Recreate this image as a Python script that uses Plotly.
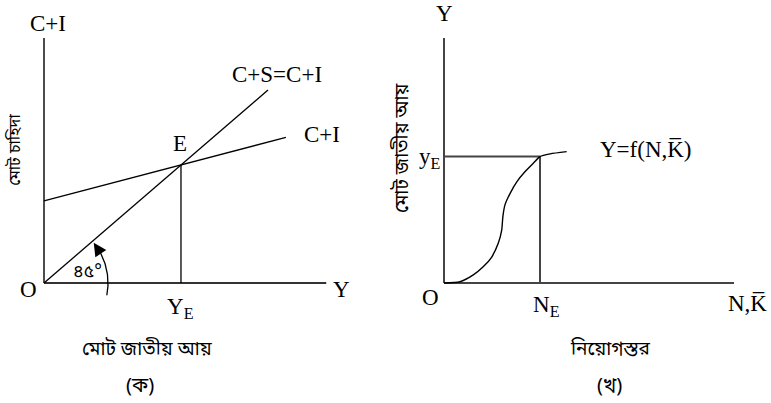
import numpy as np
import plotly.graph_objects as go

# ---------------- data (panel ক) ----------------
a_axis_x = [0, 12.6]          # horizontal axis extent
a_axis_y = [0, 12.7]          # vertical axis extent
a_diag_x = [0, 10]            # 45-degree line  C+S = C+I  (y = x)
a_ci_intercept = 4.25         # C+I line
a_ci_slope = 0.305
a_ci_xend = 10.8

# ---------------- data (panel খ) ----------------
b_axis_x = [0, 10]
b_axis_y = [0, 10]
b_curve_x = [0, 0.55, 1.01, 1.36, 1.64, 1.87, 1.99, 2.03, 2.10, 2.28, 2.51, 2.79, 3.08, 3.31, 3.66, 4.23]
b_curve_y = [0, 0.05, 0.33, 0.67, 1.05, 1.62, 2.16, 2.71, 3.18, 3.66, 4.13, 4.54, 4.89, 5.16, 5.27, 5.36]
b_NE = 3.31
b_yE = 5.16

SERIF = "Liberation Serif, Times New Roman, serif"
BN = "Noto Sans Bengali, Noto Serif Bengali, Lohit Bengali, FreeSerif, Noto Sans, sans-serif"
LAT = 23

fig = go.Figure()

def line(x, y, xa, ya, color="black", width=1.3, shape="linear"):
    fig.add_trace(go.Scatter(x=x, y=y, mode="lines", xaxis=xa, yaxis=ya,
                             line=dict(color=color, width=width, shape=shape, smoothing=0.6),
                             hoverinfo="skip", showlegend=False))

# ---- panel A ----
line([0, 0], a_axis_y, "x", "y", "black", 1.4)
line(a_axis_x, [0, 0], "x", "y", "#333", 1.8)
line(a_diag_x, a_diag_x, "x", "y")
line([0, a_ci_xend], [a_ci_intercept, a_ci_intercept + a_ci_slope * a_ci_xend], "x", "y")
xE = a_ci_intercept / (1 - a_ci_slope)
line([xE, xE], [0, xE], "x", "y")

# 45 degree arc (pixel-scale circle converted to data units)
ux_a, uy_a = 22.4, 19.3
r_px = 64
th = np.radians(np.linspace(-11, 28, 40))
line(list(r_px * np.cos(th) / ux_a), list(r_px * np.sin(th) / uy_a), "x", "y", "black", 1.3)
t1, t2 = np.radians(27), np.radians(39)

# ---- panel B ----
line([0, 0], b_axis_y, "x2", "y2", "#444", 2)
line(b_axis_x, [0, 0], "x2", "y2", "#444", 2)
line([0, b_NE], [b_yE, b_yE], "x2", "y2", "#444", 2)
line([b_NE, b_NE], [0, b_yE], "x2", "y2", "#444", 2)
line(b_curve_x, b_curve_y, "x2", "y2", "black", 1.4, "spline")

ann = []
def txt(x, y, s, xr="x", yr="y", size=LAT, font=SERIF, xanchor="center", yanchor="middle", angle=0):
    ann.append(dict(x=x, y=y, xref=xr, yref=yr, text=s, showarrow=False,
                    font=dict(family=font, size=size, color="black"),
                    xanchor=xanchor, yanchor=yanchor, textangle=angle))

# panel A labels
txt(0.18, 13.47, "C+I")
txt(-0.71, -0.36, "O")
txt(13.3, -0.36, "Y")
txt(8.3, 10.78, "C+S=C+I", xanchor="left")
txt(11.52, 7.67, "C+I", xanchor="left")
txt(xE - 0.05, xE + 1.13, "E")
txt(xE, -1.3, "Y<sub>E</sub>")
txt(1.92, 0.57, "৪৫°", size=18, font=BN)
txt(-1.25, 6.9, "মোট চাহিদা", size=16, font=BN, angle=-90)
txt(4.6, -3.47, "মোট জাতীয় আয়", size=19, font=BN)
txt(4.29, -5.39, "(ক)", size=20, font=BN)
ann.append(dict(x=r_px * np.cos(t2) / ux_a, y=r_px * np.sin(t2) / uy_a,
                ax=r_px * np.cos(t1) / ux_a, ay=r_px * np.sin(t1) / uy_a,
                xref="x", yref="y", axref="x", ayref="y", text="",
                showarrow=True, arrowhead=2, arrowsize=2, arrowwidth=1.3, arrowcolor="black"))

# panel B labels
txt(0.03, 11.0, "Y", "x2", "y2")
txt(-0.48, -0.61, "O", "x2", "y2")
txt(3.55, -0.94, "N<sub>E</sub>", "x2", "y2")
txt(10.45, -0.82, "N,K\u0305", "x2", "y2")
txt(5.31, 5.43, "Y=f(N,K\u0305)", "x2", "y2", xanchor="left")
txt(-0.05, 5.1, "y<sub>E</sub>", "x2", "y2", xanchor="right")
txt(-1.41, 5.51, "মোট জাতীয় আয়", "x2", "y2", size=19, font=BN, angle=-90)
txt(5.72, -2.73, "নিয়োগস্তর", "x2", "y2", size=19, font=BN)
txt(5.72, -4.24, "(খ)", "x2", "y2", size=20, font=BN)

# layout: window pixels -> axis ranges
W, H = 771, 403
ox_a, oy_px = 44, 283     # origin of panel A in window pixels
ox_b = 444                # origin of panel B in window pixels
ux_b, uy_b = 29, 24.5
split = 385.5
sfrac = split / W

hidden = dict(visible=False, showgrid=False, zeroline=False, fixedrange=True)
fig.update_layout(
    width=W, height=H, margin=dict(l=0, r=0, t=0, b=0),
    paper_bgcolor="white", plot_bgcolor="white", showlegend=False,
    xaxis=dict(domain=[0, sfrac], range=[-ox_a / ux_a, (split - ox_a) / ux_a], **hidden),
    yaxis=dict(domain=[0, 1], range=[(oy_px - H) / uy_a, oy_px / uy_a], **hidden),
    xaxis2=dict(domain=[sfrac, 1], range=[(split - ox_b) / ux_b, (W - ox_b) / ux_b], **hidden),
    yaxis2=dict(domain=[0, 1], anchor="x2", range=[(oy_px - H) / uy_b, oy_px / uy_b], **hidden),
    annotations=ann,
)
fig.write_html("out.html", config={"displayModeBar": False},
               post_script="document.body.style.margin='0px';document.body.style.overflow='hidden';")
